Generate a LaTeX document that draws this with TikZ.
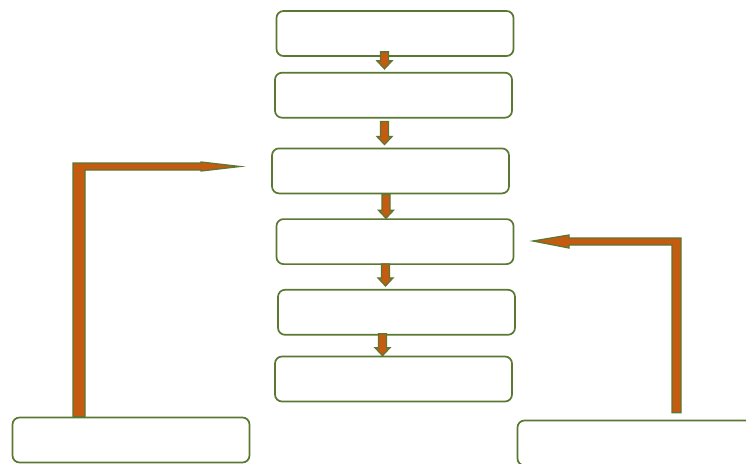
\documentclass[tikz,border=0pt]{standalone}
\usepackage{tikz}
\usetikzlibrary{positioning,calc}
\definecolor{boxgreen}{HTML}{5A7832}
\definecolor{floworange}{HTML}{C55A11}

\begin{document}
\begin{tikzpicture}[
  x=1pt, y=-1pt,
  stage/.style={draw=boxgreen, line width=1.7pt, rounded corners=7pt, fill=white, minimum width=237pt, minimum height=45pt, inner sep=0pt},
  blockfill/.style={draw=boxgreen, line width=1.3pt, fill=floworange, line join=miter},
  downflow/.style={blockfill, to path={let \p1=(\tikztostart), \p2=(\tikztotarget) in
    (\x1-4pt,\y1) -- (\x1-4pt,\y2+8pt) -- (\x1-7.5pt,\y2+8pt) -- (\x1,\y2) -- (\x1+7.5pt,\y2+8pt) -- (\x1+4pt,\y2+8pt) -- (\x1+4pt,\y1) -- cycle}},
]
  \clip (0,0) rectangle (746,463);

  % Main column
  \node[stage] (b1) at (395,33.5) {};
  \node[stage, below=15pt of b1, xshift=-1.5pt] (b2) {};
  \node[stage, below=29pt of b2, xshift=-3pt] (b3) {};
  \node[stage, below=24pt of b3, xshift=4.5pt] (b4) {};
  \node[stage, below=24pt of b4, xshift=1.5pt] (b5) {};
  \node[stage, below=20pt of b5, xshift=-3pt] (b6) {};

  % Side boxes
  \node[stage, minimum width=237pt] (lb) at (131,440) {};
  \node[stage, minimum width=242pt] (rb) at (638.5,443) {};

  % Column arrows
  \draw[downflow] ([xshift=-10.5pt,yshift=5pt]b1.south) to ([xshift=-10.5pt,yshift=3pt]b2.north);
  \draw[downflow] ([xshift=-9pt,yshift=-3pt]b2.south) to ([xshift=-9pt,yshift=3pt]b3.north);
  \draw[downflow] ([xshift=-4.5pt]b3.south) to ([xshift=-4.5pt]b4.north);
  \draw[downflow] ([xshift=-9.5pt,yshift=1pt]b4.south) to ([xshift=-9.5pt,yshift=3pt]b5.north);
  \draw[downflow] ([xshift=-14pt,yshift=2pt]b5.south) to ([xshift=-14pt]b6.north);

  % Feedback arrows
  \coordinate (lturn) at (79,166.5);
  \coordinate (ltip) at (240,166.5);
  \draw[blockfill] let \p1=(lturn |- lb.north), \p2=(lturn), \p3=(ltip) in
    (\x1-6pt,\y1) -- (\x2-6pt,\y2+3.5pt) -- (\x3-39pt,\y2+3.5pt) -- (\x3-39pt,\y2+4.5pt)
    -- (\x3,\y3) -- (\x3-39pt,\y2-4.5pt) -- (\x3-39pt,\y2-3.5pt) -- (\x2+6pt,\y2-3.5pt)
    -- (\x1+6pt,\y1) -- cycle;

  \coordinate (rturn) at (676.5,241.5);
  \coordinate (rtip) at (533,241);
  \draw[blockfill] let \p1=([yshift=7pt]rturn |- rb.north), \p2=(rturn), \p3=(rtip) in
    (\x1-4.5pt,\y1) -- (\x2-4.5pt,\y2-3.5pt) -- (\x3+36pt,\y2-3.5pt) -- (\x3+36pt,\y2-6.5pt)
    -- (\x3,\y3) -- (\x3+36pt,\y2+6.5pt) -- (\x3+36pt,\y2+3.5pt) -- (\x2+4.5pt,\y2+3.5pt)
    -- (\x1+4.5pt,\y1) -- cycle;
\end{tikzpicture}
\end{document}
